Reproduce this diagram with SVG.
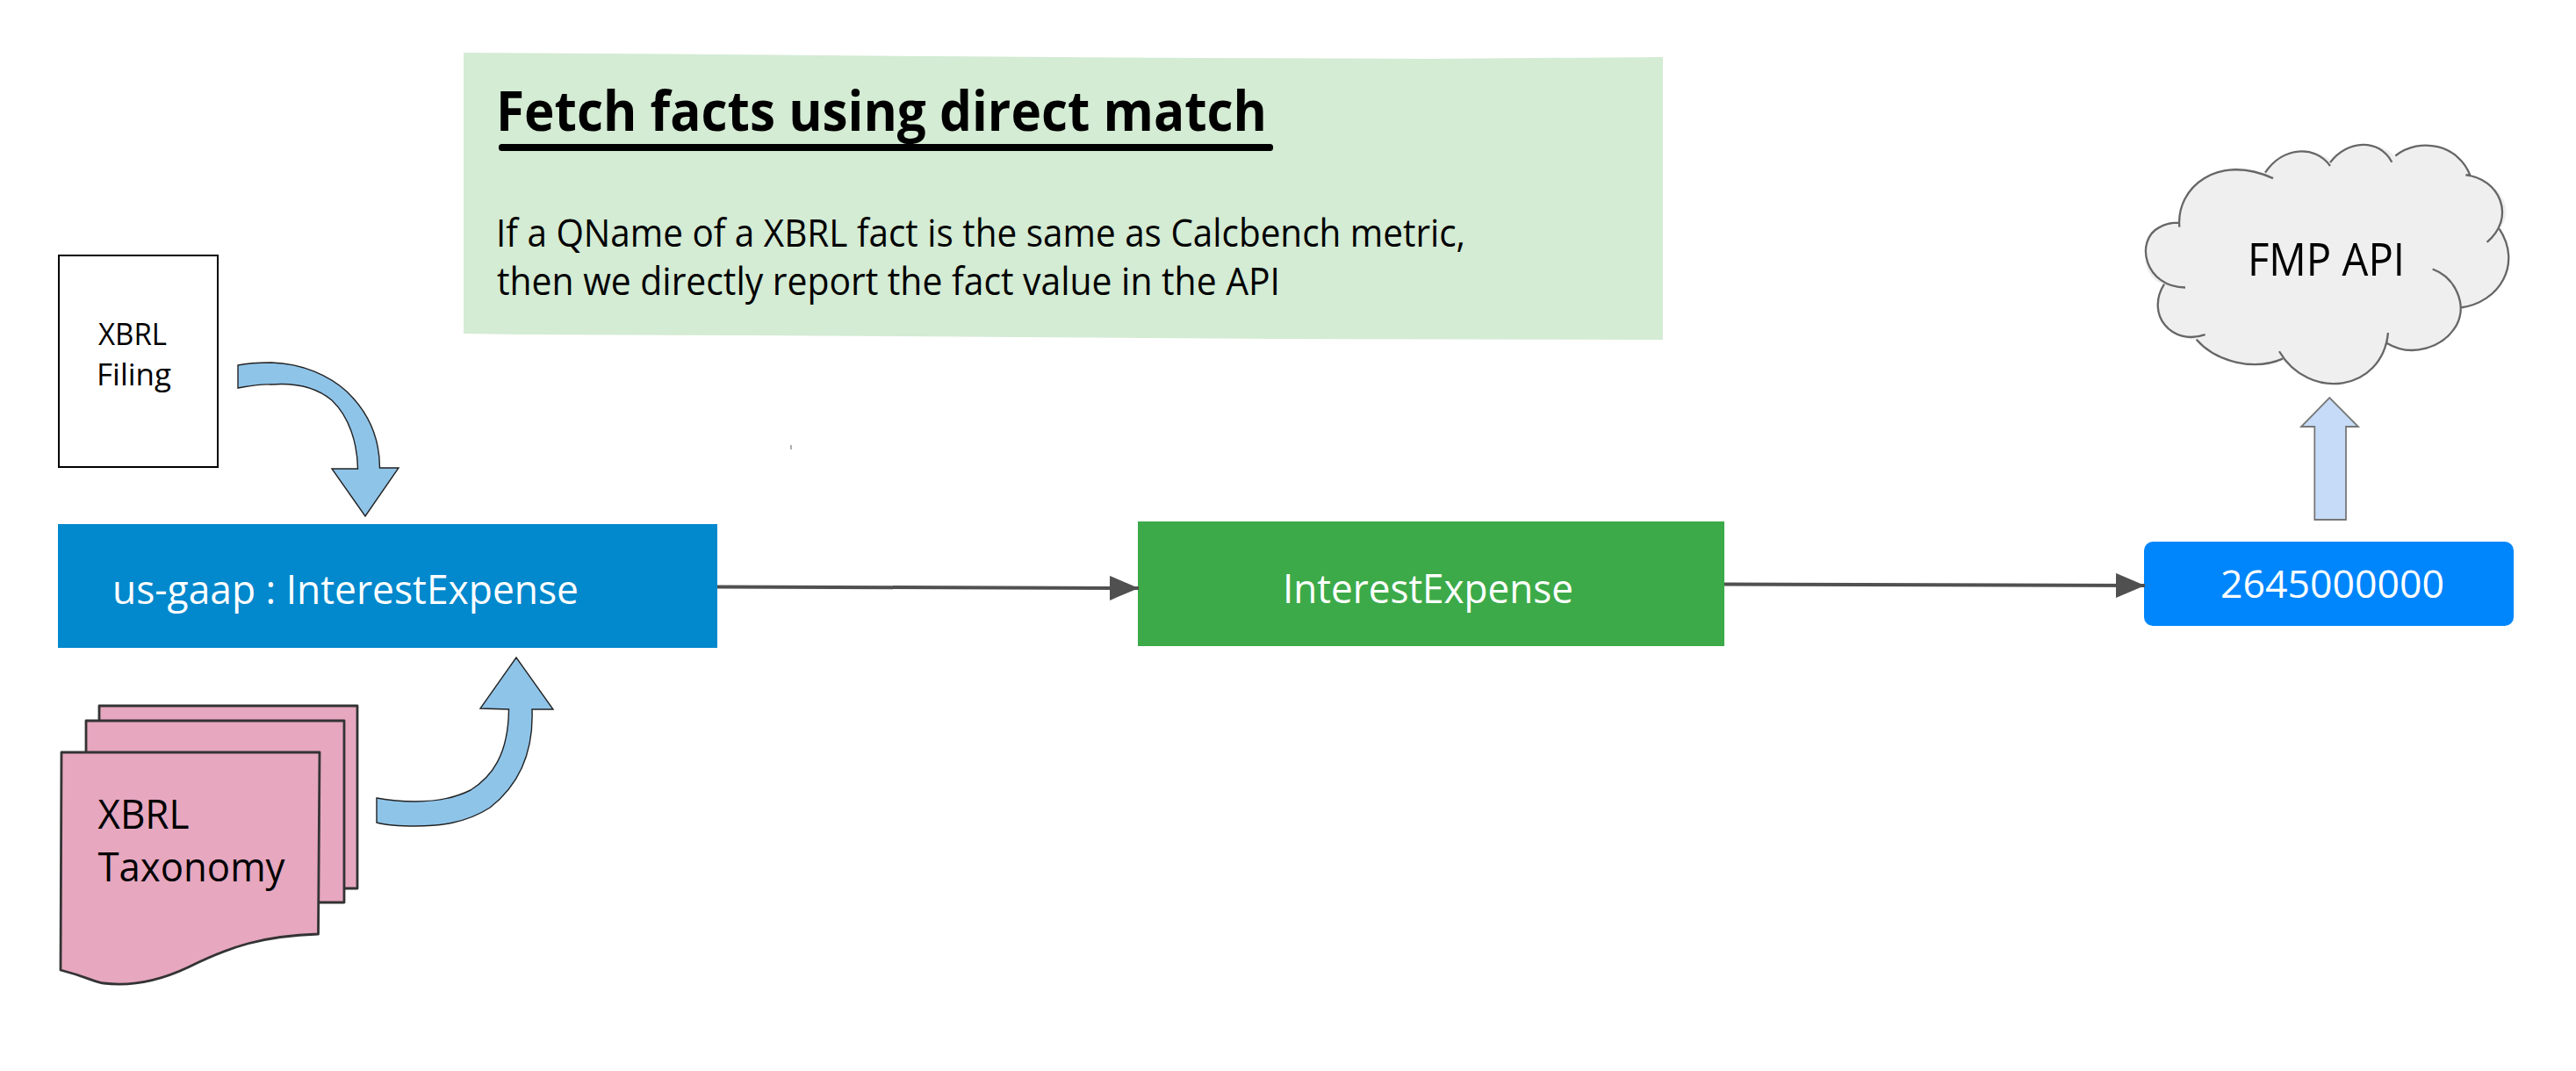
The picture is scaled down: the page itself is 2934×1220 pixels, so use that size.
<svg xmlns="http://www.w3.org/2000/svg" width="2934" height="1220" viewBox="0 0 2934 1220">
<style>
text{font-family:"Open Sans","Noto Sans","Liberation Sans",sans-serif;fill:#000}
.w{fill:#fff}
.curve{fill:#8fc4e9;stroke:#222;stroke-width:1.4}
.sheet{fill:#e6a7bf;stroke:#333;stroke-width:2.8;stroke-linejoin:round}
.conn{fill:none;stroke:#505050;stroke-width:4}
</style>
<defs>
<marker id="ah" markerUnits="userSpaceOnUse" markerWidth="34" markerHeight="28" refX="33" refY="14" orient="auto"><path d="M0,0L33,14L0,28Z" fill="#505050"/></marker>
</defs>
<rect width="2934" height="1220" fill="#fff"/>
<g id="note">
<path d="M528,60L820,62L1060,64L1360,66L1630,67L1894,65L1894,387L1450,386L1160,384L850,382L590,381L528,380Z" fill="#d4ebd4"/>
<text x="565" y="149" font-size="63" font-weight="700" textLength="878" lengthAdjust="spacingAndGlyphs">Fetch facts using direct match</text>
<rect x="568" y="164" width="882" height="8" rx="3.500" fill="#000"/>
<text x="565" y="281" font-size="43" textLength="1104" lengthAdjust="spacingAndGlyphs">If a QName of a XBRL fact is the same as Calcbench metric,</text>
<text x="566" y="336" font-size="43" textLength="892" lengthAdjust="spacingAndGlyphs">then we directly report the fact value in the API</text>
</g>
<g id="xbrl-filing">
<rect x="67" y="291" width="181" height="241" fill="#fff" stroke="#000" stroke-width="2"/>
<text x="112" y="393" font-size="35" textLength="78" lengthAdjust="spacingAndGlyphs">XBRL</text>
<text x="110" y="439" font-size="35" textLength="85" lengthAdjust="spacingAndGlyphs">Filing</text>
</g>
<g id="us-gaap-node">
<rect x="66" y="597" width="751" height="141" fill="#0288cd"/>
<text class="w" x="128" y="688" font-size="45" textLength="531" lengthAdjust="spacingAndGlyphs">us-gaap : InterestExpense</text>
</g>
<g id="xbrl-taxonomy">
<rect class="sheet" x="113" y="804" width="294" height="208"/>
<rect class="sheet" x="98" y="821" width="294" height="207"/>
<path class="sheet" d="M70,857H364L362.500,1064C300,1066 262,1078 214,1102C180,1118 150,1124 118,1120C108,1119 100,1113 69,1105Z"/>
<text x="111.500" y="944" font-size="46" textLength="104" lengthAdjust="spacingAndGlyphs">XBRL</text>
<text x="111.500" y="1004" font-size="46" textLength="213" lengthAdjust="spacingAndGlyphs">Taxonomy</text>
</g>
<g id="interest-expense-node">
<rect x="1296" y="594" width="668" height="142" fill="#3caa49"/>
<text class="w" x="1461" y="687" font-size="45" textLength="331" lengthAdjust="spacingAndGlyphs">InterestExpense</text>
</g>
<g id="value-node">
<rect x="2442" y="617" width="421" height="96" rx="10" fill="#0086fc"/>
<text class="w" x="2529" y="681" font-size="44" textLength="255" lengthAdjust="spacingAndGlyphs">2645000000</text>
</g>
<g id="fmp-api">
<g transform="translate(2400,140) scale(.3333,.3827)">
<path d="M245,295C240,190 380,95 540,150C600,70 710,70 765,112C820,50 930,50 985,100C1080,40 1200,70 1240,155C1340,175 1400,260 1340,315C1420,420 1340,540 1208,550C1210,620 1080,720 958,655C910,800 690,810 595,700C500,740 370,710 305,645C220,650 130,570 195,480C120,470 100,350 180,310C200,298 225,296 245,297Z" fill="#efefef"/>
<path vector-effect="non-scaling-stroke" d="M247,310C235,190 380,90 567,165M540,148C600,70 710,65 762,128M762,118C820,50 930,45 973,117M985,98C1070,40 1200,65 1240,155H1225M1225,155C1340,165 1400,280 1298,355M1340,315C1420,420 1340,535 1208,550M1112,435C1190,460 1230,540 1195,600C1150,670 1040,700 955,655L960,625M960,625C940,800 690,830 588,680M600,702C500,740 370,710 305,645M335,630C220,665 130,570 195,480M267,490C130,490 90,350 180,310C200,300 225,297 245,297" fill="none" stroke="#666" stroke-width="2.300"/>
</g>
<text x="2560" y="314" font-size="51" textLength="179" lengthAdjust="spacingAndGlyphs">FMP API</text>
</g>
<g id="connectors">
<path class="curve" d="M271,416C285,413 300,413 309,413C345,414 375,428 395,446C420,470 432.500,500 432.500,533L454,533L416,588L378,534L407.500,534C407,505 398,475 378,456C360,441 335,436 309,438C295,437 283,440 271,442Z"/>
<path class="curve" d="M429,909C445,912 458,913 473,913C500,913 520,908 536,900C560,885 579,860 579.500,808L547,807L588,749L630,808L606,808C608,860 590,895 558,920C530,938 500,941 473,941C455,941 440,940 429,937Z"/>
<path d="M2636.300,592V486H2621L2653.300,453L2686,486H2672V592Z" fill="#c5dbf7" stroke="#777" stroke-width="1.800"/>
<path class="conn" marker-end="url(#ah)" d="M817,668.500L1297,670"/>
<path class="conn" marker-end="url(#ah)" d="M1964,665.500L2443,667"/>
<path d="M901,507V512" stroke="#777" stroke-width="1.200"/>
</g>
</svg>
